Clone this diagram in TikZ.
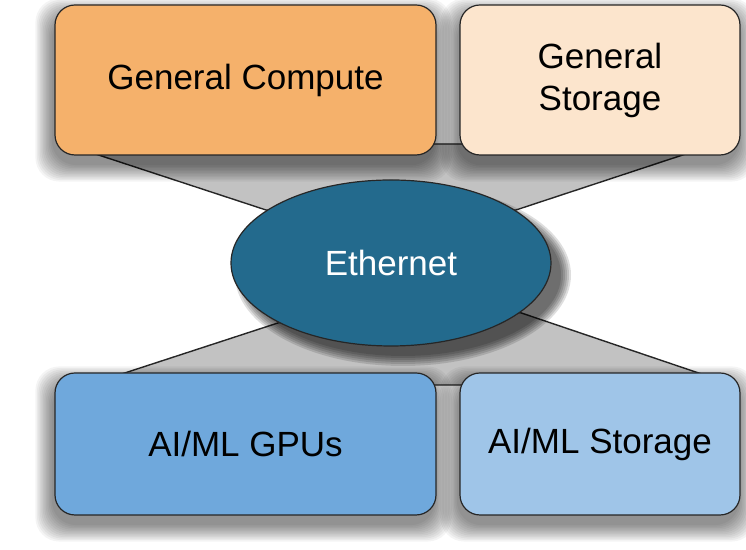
\documentclass[tikz,border=0pt]{standalone}
\usepackage{fontspec}
\setmainfont{Liberation Sans}
\usetikzlibrary{shapes.geometric}

\pgfdeclarelayer{back}
\pgfsetlayers{back,main}

\definecolor{computeorange}{HTML}{F5B16B}
\definecolor{storagepeach}{HTML}{FCE5CD}
\definecolor{gpublue}{HTML}{6FA8DC}
\definecolor{aistoreblue}{HTML}{9FC5E8}
\definecolor{ethblue}{HTML}{236A8D}
\definecolor{trapgray}{HTML}{C2C2C2}

\begin{document}
\begin{tikzpicture}[x=0.5pt,y=0.5pt,
    box/.style={draw=black!85,line width=0.6pt,rounded corners=10pt,
        inner sep=0pt,align=center,font=\fontsize{17.5}{21}\selectfont},
    hub/.style={ellipse,draw=black!85,line width=0.6pt,fill=ethblue,
        minimum width=160pt,minimum height=83pt,inner sep=0pt,
        text=white,font=\fontsize{17.5}{21}\selectfont},
    link/.style={draw=black!85,line width=0.7pt},
    haze/.style={fill=black,opacity=0.045,rounded corners=12pt}]

    \useasboundingbox (0,0) rectangle (746,550);

    % hub in the middle
    \node[hub] (eth) at (391,287) {Ethernet};

    % the four blocks
    \node[box,fill=computeorange,minimum width=190.5pt,minimum height=75pt]
        (compute) at (245.5,470) {General Compute};
    \node[box,fill=storagepeach,minimum width=140pt,minimum height=75pt]
        (genstore) at (600,470) {General\\Storage};
    \node[box,fill=gpublue,minimum width=190.5pt,minimum height=71pt]
        (gpus) at (245.5,106) {AI/ML GPUs};
    \node[box,fill=aistoreblue,minimum width=140pt,minimum height=71pt]
        (aistore) at (600,106) {AI/ML Storage};

    % corners of the two gray bands, hidden behind the boxes
    \coordinate (tl) at (65,406);
    \coordinate (tr) at (716,406);
    \coordinate (bl) at (88,165);
    \coordinate (br) at (734,165);

    \begin{pgfonlayer}{back}
        \fill[white] (0,0) rectangle (746,550);
        \filldraw[link,fill=trapgray] (tl) -- (eth.157) -- (eth.23) -- (tr) -- cycle;
        \filldraw[link,fill=trapgray] (bl) -- (eth.208) -- (eth.339) -- (br) -- cycle;
        % soft shadows
        \foreach \n in {compute,genstore,gpus,aistore}
        {
            \foreach \r in {1,...,12}
            {
                \fill[haze] ([shift={(-1.5*\r-1,-8-1.5*\r)}]\n.south west)
                    rectangle ([shift={(1.5*\r-3,-12+1.5*\r)}]\n.north east);
            }
        }
        \foreach \r in {0,...,5}
        {
            \fill[black,opacity=0.13] ([shift={(12,-12)}]eth.center)
                ellipse ({79pt+\r pt} and {40.5pt+\r pt});
        }
    \end{pgfonlayer}

\end{tikzpicture}
\end{document}
